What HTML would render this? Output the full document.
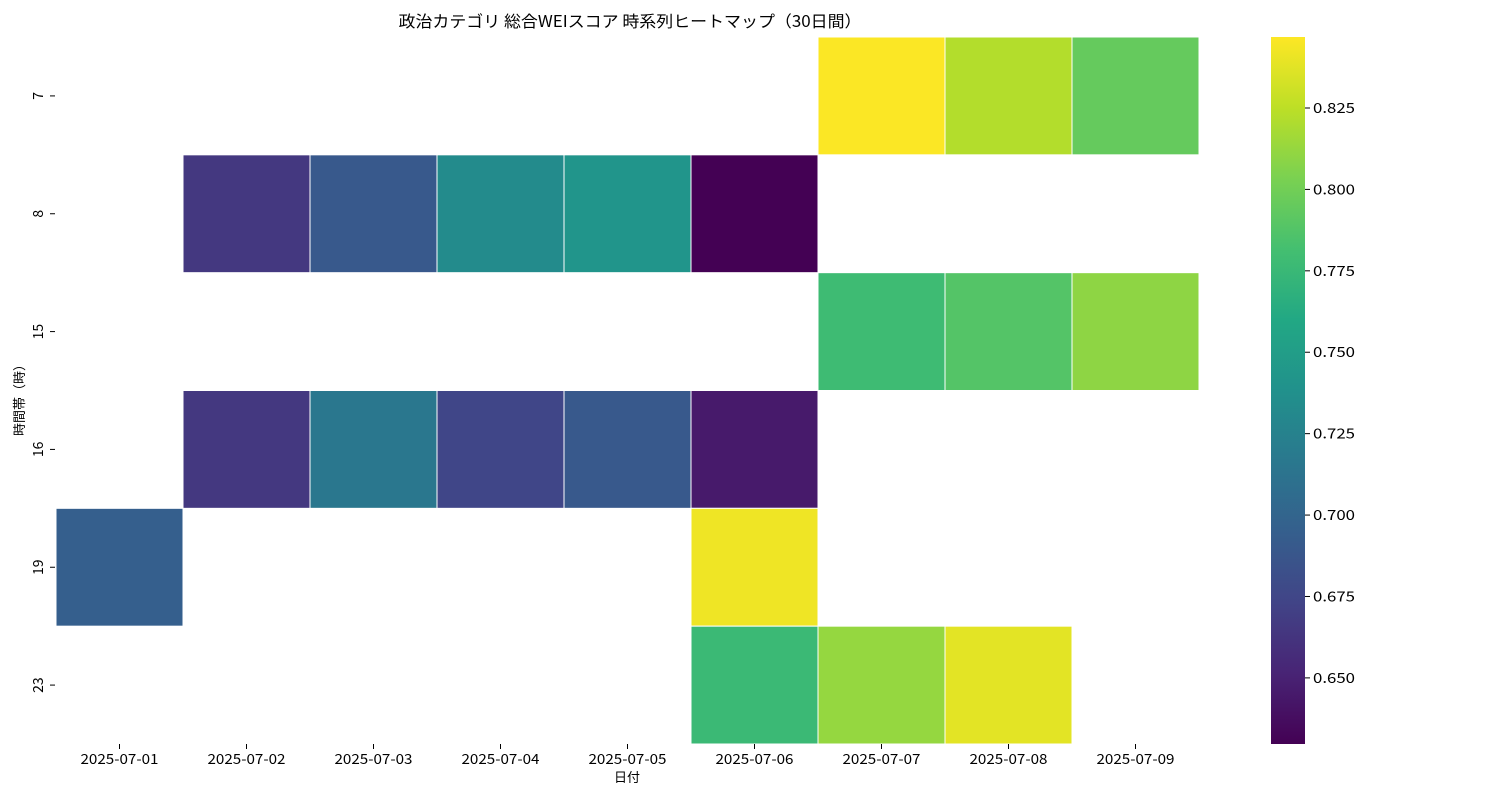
<!DOCTYPE html>
<html><head><meta charset="utf-8"><style>
body{margin:0;background:#fff;}
svg{display:block;font-family:"Noto Sans CJK JP","Liberation Sans",sans-serif;}
</style></head><body>
<svg id="chart" width="1500" height="800">
<text x="630" y="27" font-size="16" text-anchor="middle" textLength="463" lengthAdjust="spacingAndGlyphs" fill="#000">政治カテゴリ 総合WEIスコア 時系列ヒートマップ（30日間）</text>
<g id="cells"></g><g id="xt"></g><g id="yt"></g><g id="cb"></g>
<text x="627" y="782" font-size="13" text-anchor="middle">日付</text>
<text transform="translate(24,397) rotate(-90)" font-size="13" text-anchor="middle">時間帯（時）</text>
</svg>
<script>
const dates=["2025-07-01","2025-07-02","2025-07-03","2025-07-04","2025-07-05","2025-07-06","2025-07-07","2025-07-08","2025-07-09"];
const hours=["7","8","15","16","19","23"];
const values=[
[null,null,null,null,null,null,0.846,0.822,0.795],
[null,0.665,0.690,0.733,0.742,0.630,null,null,null],
[null,null,null,null,null,null,0.778,0.788,0.810],
[null,0.665,0.716,0.675,0.690,0.645,null,null,null],
[0.695,null,null,null,null,0.842,null,null,null],
[null,null,null,null,null,0.776,0.812,0.838,null]];
const cbTicks=[0.650,0.675,0.700,0.725,0.750,0.775,0.800,0.825];
const vmin=0.6297,vmax=0.8468;
const X0=56,X1=1199,Y0=37,Y1=744;
const cw=(X1-X0)/dates.length,ch=(Y1-Y0)/hours.length;
const vir=["#440154","#482475","#414487","#355f8d","#2a788e","#21918c","#22a884","#44bf70","#7ad151","#bddf26","#fde725"];
function hx(c){return [1,3,5].map(i=>parseInt(c.substr(i,2),16));}
function color(v){let t=Math.max(0,Math.min(1,(v-vmin)/(vmax-vmin)))*(vir.length-1);let i=Math.min(Math.floor(t),vir.length-2),f=t-i;let a=hx(vir[i]),b=hx(vir[i+1]);return "rgb("+a.map((x,k)=>Math.round(x+(b[k]-x)*f)).join(",")+")";}
const NS="http://www.w3.org/2000/svg";
function mk(tag,at,par){const e=document.createElementNS(NS,tag);for(const k in at)e.setAttribute(k,at[k]);document.getElementById(par).appendChild(e);return e;}
const xs=i=>X0+i*cw, ys=j=>Y0+j*ch;
values.forEach((row,j)=>row.forEach((v,i)=>{if(v===null)return;
const r=mk("rect",{x:xs(i),y:ys(j),width:cw,height:ch,fill:color(v),stroke:"#fff","stroke-width":1},"cells");

}));
dates.forEach((d,i)=>{const cx=xs(i)+cw/2;
mk("line",{x1:cx,x2:cx,y1:Y1,y2:Y1+5,stroke:"#000"},"xt");
const t=mk("text",{x:cx,y:Y1+20,"font-size":14,"text-anchor":"middle",textLength:78,lengthAdjust:"spacingAndGlyphs"},"xt");t.textContent=d;

});
hours.forEach((h,j)=>{const cy=ys(j)+ch/2;
mk("line",{x1:X0-6,x2:X0-1,y1:cy,y2:cy,stroke:"#000"},"yt");
const t=mk("text",{transform:"translate(43,"+cy+") rotate(-90)","font-size":14,"text-anchor":"middle"},"yt");t.textContent=h;

});
const CX=1271,CW=34;
const defs=mk("defs",{},"cb");const g=document.createElementNS(NS,"linearGradient");g.setAttribute("id","vg");g.setAttribute("x1","0");g.setAttribute("y1","1");g.setAttribute("x2","0");g.setAttribute("y2","0");defs.appendChild(g);
vir.forEach((c,k)=>{const s=document.createElementNS(NS,"stop");s.setAttribute("offset",k/(vir.length-1));s.setAttribute("stop-color",c);g.appendChild(s);});
const bar=mk("rect",{x:CX,y:Y0,width:CW,height:Y1-Y0,fill:"url(#vg)"},"cb");


const cy=v=>Y1-(v-vmin)/(vmax-vmin)*(Y1-Y0);
cbTicks.forEach(v=>{const y=cy(v);
mk("line",{x1:CX+CW,x2:CX+CW+5,y1:y,y2:y,stroke:"#000"},"cb");
const t=mk("text",{x:CX+CW+8,y:y+5,"font-size":14,textLength:42,lengthAdjust:"spacingAndGlyphs"},"cb");t.textContent=v.toFixed(3);

});
</script>
</body></html>
